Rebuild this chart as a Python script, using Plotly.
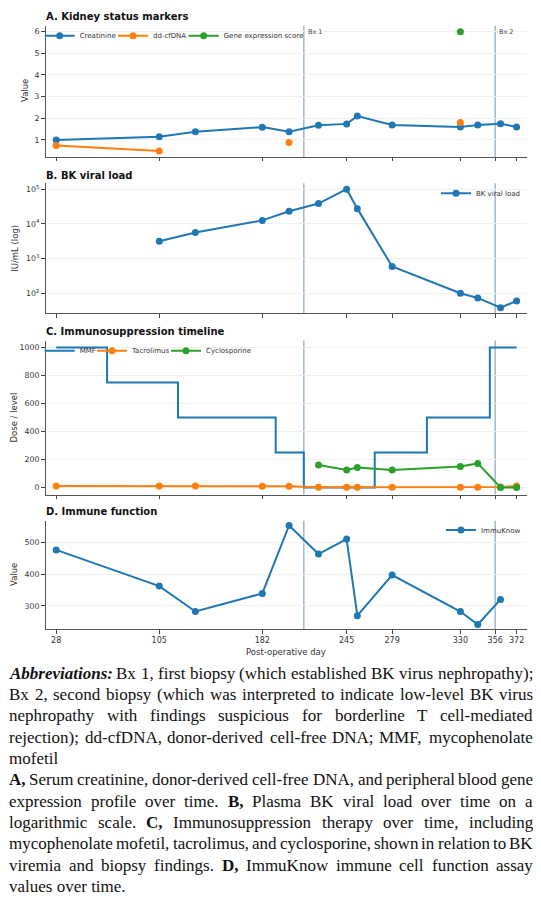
import plotly.graph_objects as go

# the page puts the figure 8px in from the top-left corner, so the figure is
# sized to the window minus that margin and positions below are page pixels
PAGE_W, PAGE_H, OFF = 541, 898, 8
W, H = PAGE_W - OFF, PAGE_H - OFF

# ---- data ----
days = [28, 105, 132, 182, 202, 224, 245, 253, 279, 330, 343, 360, 372]
creatinine = [1.0, 1.15, 1.38, 1.59, 1.38, 1.68, 1.74, 2.1, 1.69, 1.6, 1.69, 1.75, 1.6]
dd_cfdna = [0.74, 0.49, None, None, 0.88, None, None, None, None, 1.8, None, None, None]
gene_days = [330]
gene_score = [6.0]

bk_days = [105, 132, 182, 202, 224, 245, 253, 279, 330, 343, 360, 372]
bk_load = [3160, 5600, 12600, 23000, 38500, 100000, 27500, 590, 100, 73, 38, 60]

mmf_days = [28, 66, 119, 192, 213, 266, 305, 352, 372]
mmf_dose = [1000, 750, 500, 250, 0, 250, 500, 1000, 1000]
tac_level = [10, 10, 10, 9, 9, 1, 1, 1, 1, 1, 1, 3, 10]
cyc_days = [224, 245, 253, 279, 330, 343, 360, 372]
cyc_level = [160, 125, 143, 125, 150, 172, 0, 0]

immu_days = [28, 105, 132, 182, 202, 224, 245, 253, 279, 330, 343, 360]
immuknow = [476, 362, 282, 339, 553, 463, 510, 269, 397, 282, 241, 320]

day_ticks = [28, 105, 182, 245, 279, 330, 356, 372]
biopsies = [(213, "Bx 1"), (356, "Bx 2")]

BLUE, ORANGE, GREEN = "#1f77b4", "#ff7f0e", "#2ca02c"
FONT = "DejaVu Sans"
SERIF = "Liberation Serif"


def px(x):
    return (x - OFF) / W

def py(y):
    return 1 - (y - OFF) / H

def ydom(top, bottom):
    return [py(bottom), py(top)]


fig = go.Figure()

def add_line(x, y, name, color, ax, legend, mode="lines+markers", shape="linear"):
    fig.add_trace(go.Scatter(
        x=x, y=y, name=name, mode=mode, xaxis="x" + ax, yaxis="y" + ax,
        legend=legend, showlegend=True, connectgaps=False,
        line=dict(color=color, width=2, shape=shape),
        marker=dict(color=color, size=7),
    ))

# one legend per entry so each one sits where matplotlib put it
add_line(days, creatinine, "Creatinine", BLUE, "", "legend")
add_line(days, dd_cfdna, "dd-cfDNA", ORANGE, "", "legend2")
add_line(gene_days, gene_score, "Gene expression score", GREEN, "", "legend3")
add_line(bk_days, bk_load, "BK viral load", BLUE, "2", "legend4")
add_line(mmf_days, mmf_dose, "MMF", BLUE, "3", "legend5", mode="lines", shape="hv")
add_line(days, tac_level, "Tacrolimus", ORANGE, "3", "legend6")
add_line(cyc_days, cyc_level, "Cyclosporine", GREEN, "3", "legend7")
add_line(immu_days, immuknow, "ImmuKnow", BLUE, "4", "legend8")

xdom = [px(45.5), px(527.3)]
xcommon = dict(range=[20, 380], domain=xdom, tickvals=day_ticks, ticks="outside",
               ticklen=3.5, tickcolor="#444", showline=True, linecolor="#555",
               linewidth=1, showgrid=False, zeroline=False,
               tickfont=dict(family=FONT, size=8, color="#333"))
ycommon = dict(ticks="outside", ticklen=3.5, tickcolor="#444", showline=True,
               linecolor="#555", linewidth=1, showgrid=True, gridcolor="#efefef",
               gridwidth=0.8, zeroline=False,
               tickfont=dict(family=FONT, size=7.8, color="#333"))

fig.update_layout(
    xaxis=dict(xcommon, anchor="y", showticklabels=False),
    xaxis2=dict(xcommon, anchor="y2", showticklabels=False),
    xaxis3=dict(xcommon, anchor="y3", showticklabels=False),
    xaxis4=dict(xcommon, anchor="y4"),
    yaxis=dict(ycommon, anchor="x", domain=ydom(25.7, 156.9),
               range=[0.2145, 6.2755], tickvals=[1, 2, 3, 4, 5, 6]),
    yaxis2=dict(ycommon, anchor="x2", domain=ydom(183.3, 313.3), type="log",
                range=[1.42, 5.17], tickvals=[100, 1000, 10000, 100000],
                ticktext=["10<sup>2</sup>", "10<sup>3</sup>", "10<sup>4</sup>", "10<sup>5</sup>"]),
    yaxis3=dict(ycommon, anchor="x3", domain=ydom(340.5, 494.5), range=[-50, 1050],
                tickvals=[0, 200, 400, 600, 800, 1000]),
    yaxis4=dict(ycommon, anchor="x4", domain=ydom(520.7, 629.3), range=[226, 568],
                tickvals=[300, 400, 500]),
    width=W, height=H, margin=dict(l=0, r=0, t=0, b=0),
    plot_bgcolor="white", paper_bgcolor="white", showlegend=True,
)

legend_common = dict(orientation="h", bgcolor="rgba(0,0,0,0)", itemwidth=30,
                     font=dict(family=FONT, size=7, color="#333"),
                     tracegroupgap=0, itemclick=False, yanchor="top")
# (legend key, left/right x in page px, top y in page px, anchor)
legend_pos = [
    ("legend", 39.7, 21.2, "left"), ("legend2", 113, 21.2, "left"),
    ("legend3", 183.7, 21.2, "left"), ("legend4", 526, 178.8, "right"),
    ("legend5", 39.7, 336.2, "left"), ("legend6", 92, 336.2, "left"),
    ("legend7", 166, 336.2, "left"), ("legend8", 526, 515.5, "right"),
]
fig.update_layout({key: dict(legend_common, x=px(lx), y=py(ly), xanchor=anc)
                   for key, lx, ly, anc in legend_pos})

# biopsy markers
for ax in ["", "2", "3", "4"]:
    for day, label in biopsies:
        fig.add_shape(type="line", xref="x" + ax, yref=("y" + ax) + " domain",
                      x0=day, x1=day, y0=0, y1=1,
                      line=dict(color="#9fb9d1", width=1.5), layer="below")
for day, label in biopsies:
    fig.add_annotation(xref="x", yref="y domain", x=day, y=1, xanchor="left",
                       yanchor="top", xshift=2, text=label, showarrow=False,
                       font=dict(family=FONT, size=6.5, color="#444"))

# panel titles
titles = [("A. Kidney status markers", 16), ("B. BK viral load", 175),
          ("C. Immunosuppression timeline", 331.7), ("D. Immune function", 511.7)]
for text, ypx in titles:
    fig.add_annotation(xref="paper", yref="paper", x=px(44), y=py(ypx),
                       xanchor="left", yanchor="middle", text="<b>" + text + "</b>",
                       showarrow=False, font=dict(family=FONT, size=10, color="#111"))

# axis labels
ylabels = [("Value", 25, 91), ("IU/mL (log)", 15.5, 248.3),
           ("Dose / level", 13, 417.5), ("Value", 14, 575)]
for text, xpx, ypx in ylabels:
    fig.add_annotation(xref="paper", yref="paper", x=px(xpx), y=py(ypx),
                       xanchor="center", yanchor="middle", textangle=-90, text=text,
                       showarrow=False, font=dict(family=FONT, size=8.5, color="#333"))
fig.add_annotation(xref="paper", yref="paper", x=px(286.4), y=py(652),
                   xanchor="center", yanchor="middle", text="Post-operative day",
                   showarrow=False, font=dict(family=FONT, size=8.5, color="#333"))

# ---- caption, justified word by word ----
caption = [
    ("<b><i>Abbreviations:</i></b> Bx 1, first biopsy (which established BK virus nephropathy);", True),
    ("Bx 2, second biopsy (which was interpreted to indicate low-level BK virus", True),
    ("nephropathy with findings suspicious for borderline T cell-mediated", True),
    ("rejection); dd-cfDNA, donor-derived cell-free DNA; MMF, mycophenolate", True),
    ("mofetil", False),
    ("<b>A,</b> Serum creatinine, donor-derived cell-free DNA, and peripheral blood gene", True),
    ("expression profile over time. <b>B,</b> Plasma BK viral load over time on a", True),
    ("logarithmic scale. <b>C,</b> Immunosuppression therapy over time, including", True),
    ("mycophenolate mofetil, tacrolimus, and cyclosporine, shown in relation to BK", True),
    ("viremia and biopsy findings. <b>D,</b> ImmuKnow immune cell function assay", True),
    ("values over time.", False),
]

# Times-compatible advance widths (per 1000 em)
_w = {" ": 250, ",": 250, ".": 250, ";": 278, ":": 278, "(": 333, ")": 333, "-": 333}
_w.update({d: 500 for d in "0123456789"})
_w.update(dict(zip("abcdefghijklmnopqrstuvwxyz",
                   [444, 500, 444, 500, 444, 333, 500, 500, 278, 278, 500, 278, 778,
                    500, 500, 500, 500, 333, 389, 278, 500, 500, 722, 500, 500, 444])))
_w.update(dict(zip("ABCDEFGHIJKLMNOPQRSTUVWXYZ",
                   [722, 667, 667, 722, 611, 556, 722, 722, 333, 389, 722, 611, 889,
                    722, 722, 556, 722, 667, 556, 611, 722, 722, 944, 722, 722, 611])))
_wb = dict(_w, A=722, B=667, C=722, D=722)
_wbi = dict(_w, A=667, b=500, r=389, e=444, v=444, i=278, a=500, t=278, o=500,
            n=556, s=389)
_wbi[":"] = 333

def word_width(word, size):
    table = _w
    if "<i>" in word:
        table = _wbi
    elif "<b>" in word:
        table = _wb
    plain = word
    for tag in ["<b>", "</b>", "<i>", "</i>"]:
        plain = plain.replace(tag, "")
    return sum(table.get(c, 500) for c in plain) * size / 1000.0

CAP_SIZE = 17
LEFT, RIGHT = 8, 532
for i, (line, justify) in enumerate(caption):
    ypx = 673.3 + i * 21.3
    font = dict(family=SERIF, size=CAP_SIZE, color="#111")
    if not justify:
        fig.add_annotation(xref="paper", yref="paper", x=px(LEFT), y=py(ypx),
                           xanchor="left", yanchor="middle", text=line,
                           showarrow=False, font=font, borderpad=0)
        continue
    words = line.split(" ")
    widths = [word_width(w, CAP_SIZE) for w in words]
    gap = (RIGHT - LEFT - sum(widths)) / (len(words) - 1)
    gap = max(gap, 0.15 * CAP_SIZE)
    xpos = LEFT
    for w, wd in zip(words, widths):
        fig.add_annotation(xref="paper", yref="paper", x=px(xpos), y=py(ypx),
                           xanchor="left", yanchor="middle", text=w,
                           showarrow=False, font=font, borderpad=0)
        xpos += wd + gap

fig.write_html("out.html")
